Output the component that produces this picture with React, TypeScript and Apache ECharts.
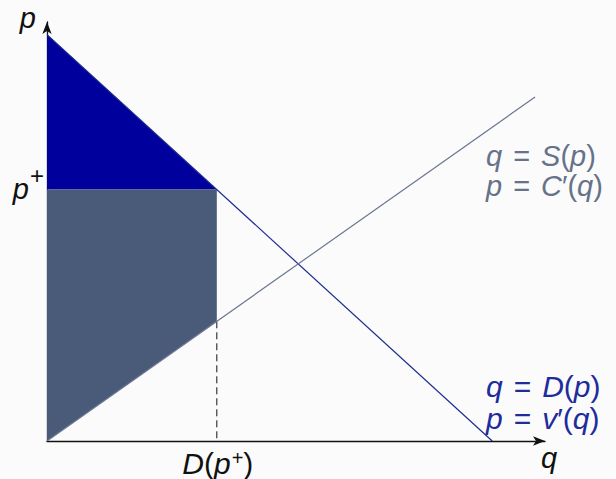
import React, { useEffect, useRef } from "react";
import * as echarts from "echarts";

// Demand and supply curves, in (quantity q, price p) units
const demandLine: [number, number][] = [[0, 9.7], [8.94, 0]];
const supplyLine: [number, number][] = [[0, 0], [9.8, 8.21]];
// Price ceiling p+ and the quantity demanded there
const pPlus = 6.0;
const qAtPPlus = 3.41;

const axisMax = 10;

const supplyAt = (q: number) =>
  supplyLine[0][1] + ((supplyLine[1][1] - supplyLine[0][1]) * (q - supplyLine[0][0])) / (supplyLine[1][0] - supplyLine[0][0]);

const FONT = "Liberation Sans";
const INK = "#111111";
const BLUE_FILL = "#00009c";
const GREY_FILL = "#4a5b7a";
const DEMAND_COLOR = "#1d2b8f";
const SUPPLY_COLOR = "#6a7690";
const DEMAND_TEXT = "#1e2c9c";
const SUPPLY_TEXT = "#66728a";

// Rich-text styles: italic variables, upright symbols, spaced "=", raised superscript
const richStyles = (color: string, size: number, lineHeight: number, supSize: number, raise: number) => {
  const base = { fontFamily: FONT, fontSize: size, lineHeight, fill: color, color };
  return {
    i: { ...base, fontStyle: "italic" },
    n: { ...base },
    e: { ...base, padding: [0, 11] },
    s: { ...base, fontSize: supSize, lineHeight: lineHeight - raise, padding: [0, 0, raise, 1] },
  };
};

export default function App() {
  const ref = useRef<HTMLDivElement>(null);

  useEffect(() => {
    if (!ref.current) return;
    const chart = echarts.init(ref.current, undefined, { renderer: "svg" });

    const sAtQ = supplyAt(qAtPPlus);
    const consumerTriangle = [[0, demandLine[0][1]], [qAtPPlus, pPlus], [0, pPlus]];
    const lowerRegion = [[0, pPlus], [qAtPPlus, pPlus], [qAtPPlus, sAtQ], [0, 0]];

    const polygonSeries = (pts: number[][], color: string) => ({
      type: "custom",
      coordinateSystem: "cartesian2d",
      data: [0],
      silent: true,
      z: 1,
      renderItem: (_p: any, api: any) => ({
        type: "polygon",
        shape: { points: pts.map((pt) => api.coord(pt)) },
        style: { fill: color, stroke: "none" },
      }),
    });

    const axisCommon = {
      type: "value",
      min: 0,
      max: axisMax,
      splitLine: { show: false },
      axisTick: { show: false },
      axisLabel: { show: false },
      axisLine: {
        onZero: false,
        symbol: ["none", "arrow"],
        symbolSize: [7, 12],
        symbolOffset: [0, 0],
        lineStyle: { color: INK, width: 1.3 },
      },
    };

    chart.setOption({
      animation: false,
      backgroundColor: "#fbfbfb",
      grid: { left: 47, right: 71, top: 22, bottom: 38 },
      xAxis: axisCommon,
      yAxis: axisCommon,
      series: [
        polygonSeries(consumerTriangle, BLUE_FILL),
        polygonSeries(lowerRegion, GREY_FILL),
        {
          type: "line",
          data: demandLine,
          symbol: "none",
          z: 3,
          lineStyle: { color: DEMAND_COLOR, width: 1.2 },
        },
        {
          type: "line",
          data: supplyLine,
          symbol: "none",
          z: 3,
          lineStyle: { color: SUPPLY_COLOR, width: 1.2 },
        },
        {
          type: "line",
          data: [[qAtPPlus, sAtQ], [qAtPPlus, 0]],
          symbol: "none",
          z: 2,
          lineStyle: { color: INK, width: 1, type: [7, 4] },
        },
      ],
    });

    // Labels placed relative to the data positions they name
    const [xP, yP] = chart.convertToPixel({ gridIndex: 0 }, [0, pPlus]) as number[];
    const [xD, yD] = chart.convertToPixel({ gridIndex: 0 }, [qAtPPlus, 0]) as number[];
    const [xTop, yTop] = chart.convertToPixel({ gridIndex: 0 }, [0, axisMax]) as number[];
    const [xRight, yRight] = chart.convertToPixel({ gridIndex: 0 }, [axisMax, 0]) as number[];

    const label = (
      text: string,
      x: number,
      y: number,
      color: string,
      align = "left",
      size = 30,
      lineHeight = size,
      supSize = 20,
      raise = 12
    ) => ({
      type: "text",
      x,
      y,
      z: 10,
      style: {
        text,
        rich: richStyles(color, size, lineHeight, supSize, raise),
        fill: color,
        font: `${size}px ${FONT}`,
        align,
        verticalAlign: "top",
      },
    });

    chart.setOption({
      graphic: [
        label("{i|p}", xTop - 11, yTop - 19, INK, "right", 29),
        label("{i|q}", xRight + 4, yRight + 2, INK, "center", 29),
        label("{i|p}{s|+}", xP - 3, yP - 23, INK, "right", 29, 45, 24, 28),
        label("{i|D}{n|(}{i|p}{s|+}{n|)}", xD + 1, yD + 7, INK, "center", 30, 31),
        label(
          "{i|q}{e|=}{i|S}{n|(}{i|p}{n|)}\n{i|p}{e|=}{i|C}{n|′(}{i|q}{n|)}",
          486,
          141,
          SUPPLY_TEXT,
          "left",
          29,
          30
        ),
        label(
          "{i|q}{e|=}{i|D}{n|(}{i|p}{n|)}\n{i|p}{e|=}{i|v}{n|′(}{i|q}{n|)}",
          486,
          370,
          DEMAND_TEXT,
          "left",
          30,
          32
        ),
      ],
    });

    return () => chart.dispose();
  }, []);

  return <div ref={ref} style={{ position: "fixed", left: 0, top: 0, width: 616, height: 479 }} />;
}
